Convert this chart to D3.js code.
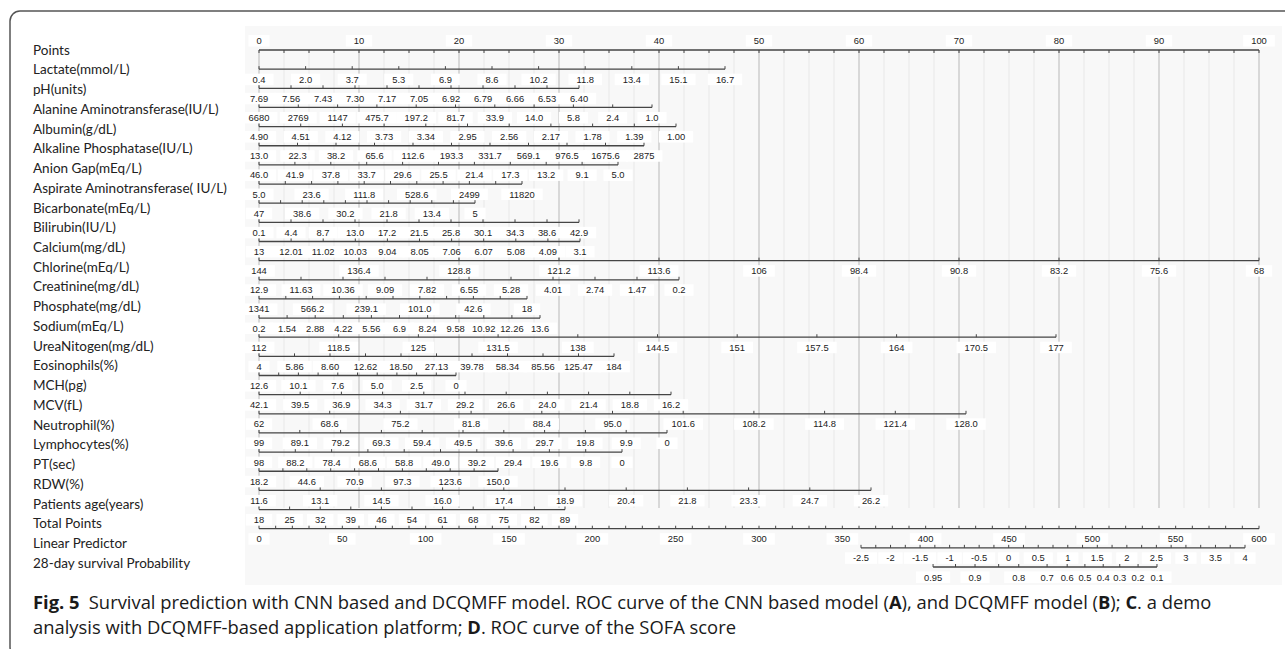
<!DOCTYPE html>
<html><head><meta charset="utf-8">
<script src="https://cdn.jsdelivr.net/npm/d3@7"></script>
<style>body{margin:0;background:#fff}svg{display:block}</style>
</head><body>
<svg id="c" width="1285" height="649"></svg>
<script>
// ---------- data ----------
const rowNames = ["Points","Lactate(mmol/L)","pH(units)","Alanine Aminotransferase(IU/L)","Albumin(g/dL)",
  "Alkaline Phosphatase(IU/L)","Anion Gap(mEq/L)","Aspirate Aminotransferase( IU/L)","Bicarbonate(mEq/L)",
  "Bilirubin(IU/L)","Calcium(mg/dL)","Chlorine(mEq/L)","Creatinine(mg/dL)","Phosphate(mg/dL)","Sodium(mEq/L)",
  "UreaNitogen(mg/dL)","Eosinophils(%)","MCH(pg)","MCV(fL)","Neutrophil(%)","Lymphocytes(%)","PT(sec)","RDW(%)",
  "Patients age(years)","Total Points","Linear Predictor","28-day survival Probability"];
const pointsTicks = [0,10,20,30,40,50,60,70,80,90,100];
const lactate = ["0.4","2.0","3.7","5.3","6.9","8.6","10.2","11.8","13.4","15.1","16.7"];
const ph = ["7.69","7.56","7.43","7.30","7.17","7.05","6.92","6.79","6.66","6.53","6.40"];
const alt = ["6680","2769","1147","475.7","197.2","81.7","33.9","14.0","5.8","2.4","1.0"];
const albumin = ["4.90","4.51","4.12","3.73","3.34","2.95","2.56","2.17","1.78","1.39","1.00"];
const alp = ["13.0","22.3","38.2","65.6","112.6","193.3","331.7","569.1","976.5","1675.6","2875"];
const anionGap = ["46.0","41.9","37.8","33.7","29.6","25.5","21.4","17.3","13.2","9.1","5.0"];
const ast = ["5.0","23.6","111.8","528.6","2499","11820"];
const bicarbonate = ["47","38.6","30.2","21.8","13.4","5"];
const bilirubin = ["0.1","4.4","8.7","13.0","17.2","21.5","25.8","30.1","34.3","38.6","42.9"];
const calcium = ["13","12.01","11.02","10.03","9.04","8.05","7.06","6.07","5.08","4.09","3.1"];
const chlorine = ["144","136.4","128.8","121.2","113.6","106","98.4","90.8","83.2","75.6","68"];
const creatinine = ["12.9","11.63","10.36","9.09","7.82","6.55","5.28","4.01","2.74","1.47","0.2"];
const phosphate = ["1341","566.2","239.1","101.0","42.6","18"];
const sodium = ["0.2","1.54","2.88","4.22","5.56","6.9","8.24","9.58","10.92","12.26","13.6"];
const ureaNitrogen = ["112","118.5","125","131.5","138","144.5","151","157.5","164","170.5","177"];
const eosinophils = ["4","5.86","8.60","12.62","18.50","27.13","39.78","58.34","85.56","125.47","184"];
const mch = ["12.6","10.1","7.6","5.0","2.5","0"];
const mcv = ["42.1","39.5","36.9","34.3","31.7","29.2","26.6","24.0","21.4","18.8","16.2"];
const neutrophil = ["62","68.6","75.2","81.8","88.4","95.0","101.6","108.2","114.8","121.4","128.0"];
const lymphocytes = ["99","89.1","79.2","69.3","59.4","49.5","39.6","29.7","19.8","9.9","0"];
const ptSec = ["98","88.2","78.4","68.6","58.8","49.0","39.2","29.4","19.6","9.8","0"];
const rdw = ["18.2","44.6","70.9","97.3","123.6","150.0"];
const scaleRowA = ["11.6","13.1","14.5","16.0","17.4","18.9","20.4","21.8","23.3","24.7","26.2"];
const scaleRowB = ["18","25","32","39","46","54","61","68","75","82","89"];
const variableScales = [lactate,ph,alt,albumin,alp,anionGap,ast,bicarbonate,bilirubin,calcium,chlorine,
  creatinine,phosphate,sodium,ureaNitrogen,eosinophils,mch,mcv,neutrophil,lymphocytes,ptSec,rdw,scaleRowA,scaleRowB];
// points reached by the last tick of each variable scale
const maxPoints = [46.6,32.0,39.3,41.7,38.5,35.9,26.3,21.6,32.0,32.1,100,42.0,26.8,28.1,79.7,35.5,19.7,41.2,70.7,40.8,36.3,23.9,61.2,30.6];
const totalTicks = [0,50,100,150,200,250,300,350,400,450,500,550,600];
const lpTicks = [-2.5,-2,-1.5,-1,-0.5,0,0.5,1,1.5,2,2.5,3,3.5,4];
const lpTotalRange = [361.2, 591.6];   // total points where LP -2.5 and 4 sit
const probLabels = ["0.95","0.9","0.8","0.7","0.6","0.5","0.4","0.3","0.2","0.1"];
const probAtLP = [-1.28,-0.57,0.17,0.65,0.99,1.29,1.60,1.88,2.19,2.51];
const probMinorAtLP = [-0.9,-0.17];

// ---------- layout ----------
const svg = d3.select("#c");
const xPts = d3.scaleLinear().domain([0,100]).range([259,1259]);
const xTot = d3.scaleLinear().domain([0,600]).range([259,1259]);
const xLP = d3.scaleLinear().domain([-2.5,4]).range(lpTotalRange.map(xTot));
const rowY = d3.scaleLinear().domain([0,27]).range([50,567]);
const labelY = d3.scaleLinear().domain([0,26]).range([50,563]);
const LINE = "#454545", TXT = "#222";
const tickFont = "'Liberation Sans', Arial, sans-serif";
const tickSize = 9.4;

// frame
svg.append("rect").attr("x",10).attr("y",11).attr("width",1300).attr("height",646).attr("rx",10)
  .attr("fill","none").attr("stroke","#555").attr("stroke-width",1.5);
// panel
svg.append("rect").attr("x",245).attr("y",26).attr("width",1037).attr("height",559).attr("fill","#f8f8f8");

const gGrid = svg.append("g"), gBox = svg.append("g"), gLine = svg.append("g"), gText = svg.append("g");

// grid
const gridVals = d3.range(0,100.01,2.5);
gGrid.selectAll("line").data(gridVals).join("line")
  .attr("x1",d=>xPts(d)).attr("x2",d=>xPts(d)).attr("y1",rowY(0)).attr("y2",508)
  .attr("stroke",d=>d%10===0?"#d0d0d0":"#e8e8e8").attr("stroke-width",d=>d%10===0?1.6:1);

function label(x,y,t){
  const el = gText.append("text").attr("x",x).attr("y",y).attr("text-anchor","middle")
    .attr("font-family",tickFont).attr("font-size",tickSize).attr("fill",TXT).text(t);
  const w = el.node().getComputedTextLength();
  gBox.append("rect").attr("x",x-w/2-8).attr("y",y-9).attr("width",w+16).attr("height",11.5).attr("fill","#fff");
}
function hline(x1,x2,y){
  gLine.append("line").attr("x1",x1).attr("x2",x2).attr("y1",y).attr("y2",y).attr("stroke",LINE).attr("stroke-width",1.3);
}
function tick(x,y,dir){
  gLine.append("line").attr("x1",x).attr("x2",x).attr("y1",y).attr("y2",y+dir*3).attr("stroke",LINE).attr("stroke-width",1);
}

// Points axis
{
  const y = rowY(0);
  hline(xPts(0),xPts(100),y);
  d3.range(0,100.01,2.5).forEach(v=>tick(xPts(v),y,1));
  pointsTicks.forEach(v=>label(xPts(v),y-6,String(v)));
}
// variable rows
variableScales.forEach((labs,i)=>{
  const y = rowY(i+1);
  const s = d3.scalePoint().domain(d3.range(labs.length)).range([xPts(0),xPts(maxPoints[i])]);
  hline(s(0),s(labs.length-1),y);
  labs.forEach((t,k)=>{ tick(s(k),y,-1); label(s(k),y+13.5,t); });
  if (labs.length < 11) d3.range(labs.length-1).forEach(k=>tick((s(k)+s(k+1))/2,y,-1));
});
// Total points
{
  const y = rowY(25);
  hline(xTot(0),xTot(600),y);
  d3.range(0,600.01,10).forEach(v=>tick(xTot(v),y,-1));
  totalTicks.forEach(v=>label(xTot(v),y+13.5,String(v)));
}
// Linear predictor
{
  const y = rowY(26);
  hline(xLP(-2.5),xLP(4),y);
  d3.range(-2.5,4.01,0.25).forEach(v=>tick(xLP(v),y,-1));
  lpTicks.forEach(v=>label(xLP(v),y+13.5,String(v)));
}
// Probability
{
  const y = rowY(27);
  hline(xLP(probAtLP[0]),xLP(probAtLP[probAtLP.length-1]),y);
  probAtLP.forEach((v,k)=>{ tick(xLP(v),y,-1); label(xLP(v),y+13.5,probLabels[k]); });
  probMinorAtLP.forEach(v=>tick(xLP(v),y,-1));
}

// left labels
svg.append("g").selectAll("text").data(rowNames).join("text")
  .attr("x",33).attr("y",(d,i)=>labelY(i)).attr("dy","0.35em")
  .attr("font-family","Lato, 'Open Sans', sans-serif").attr("font-size",13.5).attr("fill","#222")
  .text(d=>d);

// caption
const capFont = "'Open Sans', 'Noto Sans', sans-serif";
const cap = svg.append("g").attr("font-family",capFont).attr("fill","#1a1a1a");
const l1 = cap.append("text").attr("x",33).attr("y",609).attr("font-size",17);
[["Fig. 5",1],["\u2002Survival prediction with CNN based and DCQMFF model. ROC curve of the CNN based model (",0],["A",1],
 ["), and DCQMFF model (",0],["B",1],["); ",0],["C",1],[". a demo",0]]
 .forEach(([t,b])=>l1.append("tspan").attr("font-weight",b?700:400).text(t));
const l2 = cap.append("text").attr("x",33).attr("y",634).attr("font-size",17);
[["analysis with DCQMFF-based application platform; ",0],["D",1],[". ROC curve of the SOFA score",0]]
 .forEach(([t,b])=>l2.append("tspan").attr("font-weight",b?700:400).text(t));
const fs = 17*1179/l1.node().getComputedTextLength();
l1.attr("font-size",fs); l2.attr("font-size",fs);
</script>
</body></html>
